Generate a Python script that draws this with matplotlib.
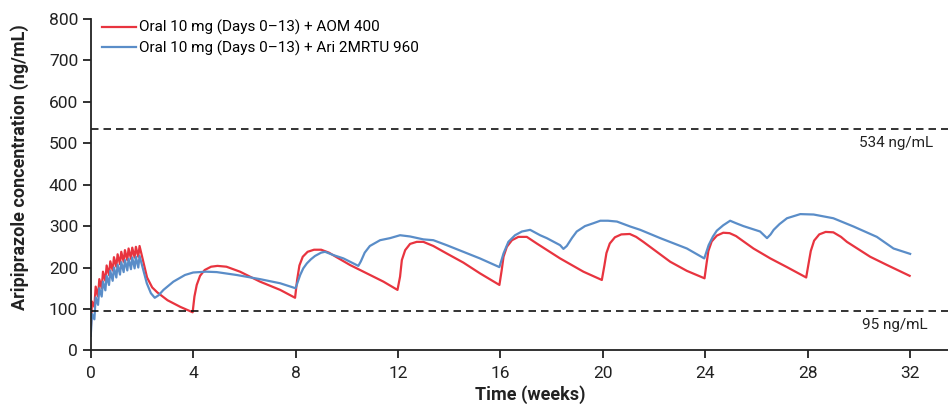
import matplotlib
matplotlib.use("Agg")
import matplotlib.pyplot as plt
import numpy as np

plt.rcParams['font.family'] = ['Roboto', 'DejaVu Sans']

RED = '#e8343f'
BLUE = '#5a8dc8'

# oral lead-in, one dose per day on days 0-13
dose_days = list(range(14))
red_oral_trough = [48, 105, 130, 150, 168, 182, 193, 202, 208, 214, 218, 221, 224, 226]
red_oral_peak = [118, 154, 172, 190, 205, 215, 225, 232, 238, 242, 246, 248, 250, 252]
blue_oral_trough = [35, 75, 110, 130, 145, 158, 168, 176, 183, 189, 193, 196, 198, 200]
blue_oral_peak = [88, 128, 150, 166, 180, 192, 200, 207, 213, 218, 221, 224, 226, 228]

# after the lead-in (weeks, ng/mL)
red_weeks = [2.2, 2.4, 2.6, 3.0, 3.5, 3.98,
             4.05, 4.14, 4.27, 4.45, 4.7, 4.95, 5.3, 5.83, 6.61, 7.4, 7.98,
             8.06, 8.15, 8.28, 8.47, 8.72, 9.0, 9.3, 9.6, 10.13, 10.78, 11.43, 11.98,
             12.08, 12.15, 12.28, 12.47, 12.73, 12.99, 13.38, 13.9, 14.55, 15.2, 15.96,
             16.05, 16.12, 16.25, 16.45, 16.7, 17.03, 17.42, 18.33, 19.24, 19.96,
             20.06, 20.14, 20.27, 20.47, 20.72, 21.05, 21.3, 21.58, 22.63, 23.28, 23.97,
             24.05, 24.12, 24.25, 24.45, 24.7, 24.95, 25.2, 25.88, 26.54, 27.19, 27.94,
             28.04, 28.12, 28.25, 28.45, 28.7, 29.0, 29.3, 29.53, 30.44, 31.1, 31.98]
red_conc = [176, 152, 140, 121, 105, 92,
            130, 158, 180, 194, 202, 204, 202, 190, 166, 146, 127,
            170, 205, 226, 238, 243, 243, 236, 225, 206, 186, 166, 146,
            178, 218, 242, 257, 262, 262, 252, 234, 212, 186, 158,
            194, 226, 250, 266, 274, 274, 258, 222, 190, 170,
            205, 235, 258, 273, 280, 281, 274, 262, 214, 192, 174,
            210, 240, 263, 277, 284, 283, 276, 246, 222, 201, 176,
            212, 240, 265, 280, 286, 285, 274, 262, 226, 206, 180]

blue_weeks = [2.19, 2.35, 2.5, 2.65, 2.84, 3.23, 3.68, 4.0, 4.5, 4.92, 5.7, 6.61, 7.4, 8.0,
              8.1, 8.18, 8.3, 8.44, 8.6, 8.76, 9.0, 9.15, 9.48, 9.87, 10.45,
              10.55, 10.7, 10.9, 11.3, 11.69, 12.08, 12.47, 12.99, 13.38, 13.9, 14.55, 15.2, 15.96,
              16.12, 16.31, 16.57, 16.84, 17.16, 17.55, 17.81, 18.33, 18.46, 18.59, 18.8, 18.98,
              19.3, 19.63, 19.9, 20.2, 20.55, 21.07, 21.46, 22.24, 23.28, 23.96,
              24.13, 24.3, 24.45, 24.7, 24.97, 25.2, 25.49, 26.14, 26.41, 26.55, 26.67, 26.9,
              27.19, 27.71, 28.23, 29.0, 29.79, 30.7, 31.35, 32.0]
blue_conc = [162, 138, 127, 133, 146, 166, 182, 188, 190, 189, 182, 172, 162, 150,
             168, 182, 198, 210, 220, 228, 236, 238, 230, 222, 204,
             215, 236, 252, 266, 271, 278, 275, 268, 266, 254, 238, 222, 201,
             234, 262, 278, 287, 291, 278, 271, 254, 245, 252, 272, 287,
             300, 307, 313, 313, 311, 299, 291, 271, 246, 222,
             254, 275, 289, 302, 313, 307, 300, 287, 271, 280, 291, 305,
             319, 329, 328, 319, 299, 274, 246, 233]

thresholds = [534, 95]


def full_series(trough, peak, weeks, conc):
    t, c = [], []
    for d, lo, hi in zip(dose_days, trough, peak):
        t += [d / 7, (d + 0.35) / 7]
        c += [lo, hi]
    return t + weeks, c + conc


fig = plt.figure(figsize=(9.48, 4.04), dpi=100)
ax = fig.add_axes([0.0957, 0.1327, 0.9265, 0.8203])

rt, rc = full_series(red_oral_trough, red_oral_peak, red_weeks, red_conc)
bt, bc = full_series(blue_oral_trough, blue_oral_peak, blue_weeks, blue_conc)
ax.plot(rt, rc, color=RED, lw=1.6, label='Oral 10 mg (Days 0\u201313) + AOM 400')
ax.plot(bt, bc, color=BLUE, lw=1.6, label='Oral 10 mg (Days 0\u201313) + Ari 2MRTU 960')

for y in thresholds:
    ax.axhline(y, color='#111111', lw=1.2, ls=(0, (4.5, 3)))
ax.text(32.9, 534 - 16, '534 ng/mL', ha='right', va='top', fontsize=11, color='#222222')
ax.text(32.7, 95 - 16, '95 ng/mL', ha='right', va='top', fontsize=11, color='#222222')

ax.set_xlim(0, 34.3)
ax.set_ylim(0, 800)
ax.set_xticks(range(0, 33, 4))
ax.set_yticks(range(0, 801, 100))
for s in ['top', 'right']:
    ax.spines[s].set_visible(False)
for s in ['left', 'bottom']:
    ax.spines[s].set_linewidth(1.3)
    ax.spines[s].set_color('#222222')
ax.tick_params(length=6, width=1.3, color='#222222', labelsize=12.5, labelcolor='#222222')
ax.tick_params(axis='x', pad=5)
ax.tick_params(axis='y', pad=3)

ax.set_xlabel('Time (weeks)', fontsize=13, fontweight='bold', labelpad=3, color='#222222')
fig.text(20 / 948, 1 - 167 / 404, 'Aripiprazole concentration (ng/mL)', rotation=90,
         ha='center', va='center', fontsize=13, fontweight='bold', color='#222222')

ax.legend(loc='upper left', bbox_to_anchor=(102 / 948, 1 - 20 / 404), bbox_transform=fig.transFigure,
          frameon=False, fontsize=11, handlelength=2.2, handletextpad=0.25, labelspacing=0.35,
          borderpad=0, borderaxespad=0)

fig.savefig('out.png', dpi=100)
